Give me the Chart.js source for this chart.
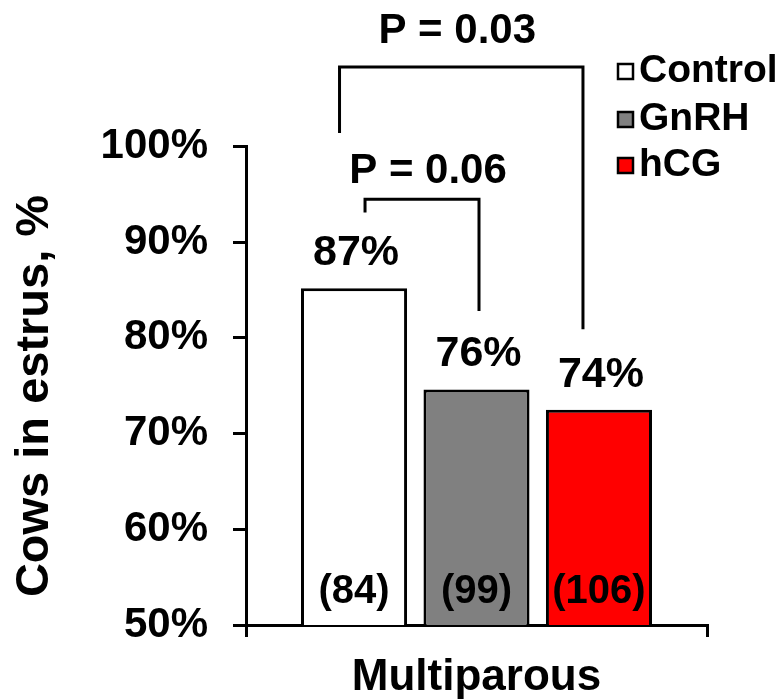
<!DOCTYPE html>
<html>
<head>
<meta charset="utf-8">
<script src="https://cdn.jsdelivr.net/npm/chart.js@4.4.0/dist/chart.umd.min.js"></script>
<style>
  html, body { margin: 0; padding: 0; background: #fff; }
  #wrap { width: 782px; height: 700px; position: relative; }
</style>
</head>
<body>
<div id="wrap"><canvas id="chart" width="782" height="700"></canvas></div>
<script>
// datos
const categories = ["Multiparous"];
const groups = ["Control", "GnRH", "hCG"];
const barValues = [85.2, 74.6, 72.5];          // altura de cada barra tal como se ve
const valueLabels = ["87%", "76%", "74%"];
const countLabels = ["(84)", "(99)", "(106)"];
const fillColors = ["#ffffff", "#808080", "#ff0000"];
const yTickValues = [50, 60, 70, 80, 90, 100];

const FONT = "'Liberation Sans', Arial, Helvetica, sans-serif";

// corchetes de significancia (valores en unidades del eje y)
const brackets = [
    { from: 0, to: 2, top: 108.3, leftEnd: 101.4, rightEnd: 80.9, dxFrom: -14.5, dxTo: -16, text: "P = 0.03", textY: 112.0, textDx: -4 },
    { from: 0, to: 1, top: 94.5, leftEnd: 93.1, rightEnd: 82.8, dxFrom: 11, dxTo: 2.5, text: "P = 0.06", textY: 97.4, textDx: 6 }
];

const datasets = groups.map((g, i) => ({
    label: g,
    data: [barValues[i]],
    backgroundColor: fillColors[i],
    borderColor: "#000",
    borderWidth: 3,
    borderSkipped: false,
    barPercentage: 0.866,
    categoryPercentage: 0.797
}));

// etiquetas, corchetes, leyenda y título del eje y
const annotations = {
    id: "annotations",
    afterDraw(chart) {
        const ctx = chart.ctx;
        const y = chart.scales.y;
        const bars = chart.data.datasets.map((d, i) => chart.getDatasetMeta(i).data[0]);
        const basePx = y.getPixelForValue(y.min);

        ctx.save();
        ctx.fillStyle = "#000";
        ctx.textAlign = "center";
        ctx.textBaseline = "middle";

        // valores sobre las barras
        ctx.font = "bold 43px " + FONT;
        bars.forEach((b, i) => ctx.fillText(valueLabels[i], b.x + 2, b.y - 35));

        // n dentro de las barras
        ctx.font = "bold 40px " + FONT;
        bars.forEach((b, i) => ctx.fillText(countLabels[i], b.x, basePx - 33));

        // corchetes
        ctx.strokeStyle = "#000";
        ctx.lineWidth = 3;
        ctx.lineJoin = "miter";
        brackets.forEach(br => {
            const x1 = bars[br.from].x + br.dxFrom;
            const x2 = bars[br.to].x + br.dxTo;
            const yt = y.getPixelForValue(br.top);
            ctx.beginPath();
            ctx.moveTo(x1, y.getPixelForValue(br.leftEnd));
            ctx.lineTo(x1, yt);
            ctx.lineTo(x2, yt);
            ctx.lineTo(x2, y.getPixelForValue(br.rightEnd));
            ctx.stroke();
            ctx.font = "bold 42px " + FONT;
            ctx.fillText(br.text, (x1 + x2) / 2 + br.textDx, y.getPixelForValue(br.textY));
        });

        // leyenda
        ctx.textAlign = "left";
        ctx.font = "bold 39px " + FONT;
        const rowY = [71, 119, 165];
        groups.forEach((g, i) => {
            ctx.fillStyle = fillColors[i];
            ctx.fillRect(618, rowY[i] - 7, 15, 15);
            ctx.lineWidth = 2.5;
            ctx.strokeRect(618, rowY[i] - 7, 15, 15);
            ctx.fillStyle = "#000";
            ctx.fillText(g, 639, rowY[i]);
        });

        // título del eje y
        ctx.translate(35, 396);
        ctx.rotate(-Math.PI / 2);
        ctx.textAlign = "center";
        ctx.font = "bold 47px " + FONT;
        ctx.fillText("Cows in estrus, %", 0, 0);
        ctx.restore();
    }
};

new Chart(document.getElementById("chart"), {
    type: "bar",
    data: { labels: categories, datasets: datasets },
    options: {
        responsive: false,
        animation: false,
        layout: { padding: { top: 146.5, right: 75, left: 0, bottom: 0 } },
        plugins: {
            legend: { display: false },
            tooltip: { enabled: false }
        },
        scales: {
            x: {
                afterFit: s => { s.height = 75; },
                border: { color: "#000", width: 3 },
                grid: { offset: true, drawOnChartArea: false, drawTicks: true, tickLength: 12, color: "#000", lineWidth: 3 },
                ticks: { color: "#000", padding: 14, font: { family: FONT, size: 44, weight: "bold" } }
            },
            y: {
                min: 50,
                max: 100,
                afterFit: s => { s.width = 246; },
                afterBuildTicks: s => { s.ticks = yTickValues.map(v => ({ value: v })); },
                border: { color: "#000", width: 3 },
                grid: { drawOnChartArea: false, drawTicks: true, tickLength: 13, color: "#000", lineWidth: 3 },
                ticks: {
                    color: "#000",
                    padding: 25,
                    font: { family: FONT, size: 42, weight: "bold" },
                    callback: v => v + "%"
                }
            }
        }
    },
    plugins: [annotations]
});
</script>
</body>
</html>
